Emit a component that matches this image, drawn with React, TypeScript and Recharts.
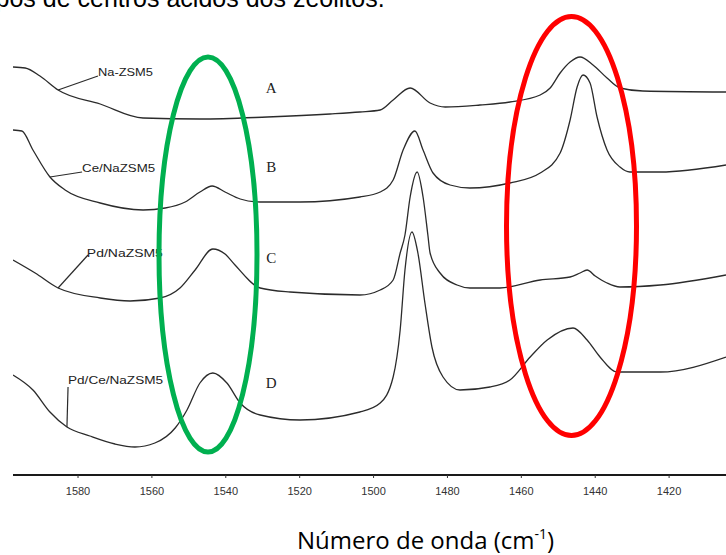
import React from "react";
import { LineChart, Line, XAxis, YAxis, ReferenceLine } from "recharts";

const W = 726;
const H = 555;
const PLOT_LEFT = 13;
const PLOT_TOP = 40;
const PLOT_BOTTOM = 475;
const X_DOMAIN: [number, number] = [1404.6, 1597.6];
const Y_DOMAIN: [number, number] = [0, 4.35];

const xTicks = [1580, 1560, 1540, 1520, 1500, 1480, 1460, 1440, 1420];

// Curve A: Na-ZSM5
const wnA = [1597.6, 1594.3, 1590.3, 1585.4, 1574.0, 1562.4, 1547.0, 1528.8, 1511.8, 1503.7, 1498.2, 1494.7, 1490.1, 1484.7, 1480.6, 1471.2, 1463.1, 1454.9, 1452.2, 1449.5, 1446.8, 1444.1, 1440.6, 1436.8, 1433.3, 1427.1, 1404.6];
const absA = [4.08, 4.07, 3.99, 3.85, 3.71, 3.57, 3.56, 3.58, 3.61, 3.63, 3.65, 3.75, 3.87, 3.72, 3.68, 3.70, 3.73, 3.80, 3.87, 4.02, 4.13, 4.18, 4.10, 3.97, 3.87, 3.84, 3.83];

// Curve B: Ce/NaZSM5
const wnB = [1597.6, 1595.2, 1592.2, 1587.6, 1583.5, 1574.0, 1562.4, 1556.4, 1551.0, 1547.0, 1543.7, 1540.2, 1536.1, 1530.7, 1519.9, 1503.7, 1498.2, 1494.7, 1492.0, 1488.8, 1486.6, 1483.9, 1479.3, 1473.9, 1463.1, 1454.9, 1449.5, 1446.8, 1444.9, 1443.3, 1441.4, 1439.5, 1436.8, 1433.3, 1430.6, 1422.4, 1404.6];
const absB = [3.45, 3.44, 3.25, 2.98, 2.85, 2.72, 2.65, 2.67, 2.73, 2.83, 2.89, 2.83, 2.76, 2.73, 2.73, 2.78, 2.83, 2.95, 3.25, 3.44, 3.25, 3.02, 2.90, 2.87, 2.92, 3.02, 3.22, 3.55, 3.88, 4.00, 3.92, 3.58, 3.25, 3.08, 3.03, 3.03, 3.10];

// Curve C: Pd/NaZSM5
const wnC = [1597.6, 1591.6, 1585.4, 1574.0, 1565.9, 1557.8, 1552.4, 1548.3, 1543.5, 1540.2, 1537.5, 1530.7, 1522.6, 1503.7, 1498.2, 1494.7, 1492.8, 1491.5, 1490.1, 1488.2, 1486.6, 1485.3, 1484.7, 1482.0, 1477.4, 1473.9, 1465.8, 1454.9, 1446.8, 1444.1, 1442.2, 1440.0, 1436.8, 1433.3, 1422.4, 1404.6];
const absC = [2.15, 2.02, 1.87, 1.77, 1.74, 1.77, 1.87, 2.05, 2.26, 2.21, 2.10, 1.87, 1.83, 1.80, 1.85, 1.95, 2.22, 2.40, 2.78, 3.03, 2.78, 2.40, 2.22, 2.02, 1.90, 1.87, 1.87, 1.95, 1.98, 2.02, 2.05, 1.99, 1.92, 1.88, 1.90, 2.00];

// Curve D: Pd/Ce/NaZSM5
const wnD = [1597.6, 1592.2, 1587.6, 1583.0, 1576.8, 1570.0, 1564.6, 1559.2, 1553.7, 1550.5, 1547.0, 1543.5, 1539.7, 1536.1, 1530.7, 1519.9, 1503.7, 1498.2, 1494.7, 1492.8, 1491.5, 1489.6, 1488.0, 1486.1, 1484.2, 1481.2, 1476.6, 1468.5, 1463.1, 1457.6, 1453.0, 1446.0, 1442.2, 1438.7, 1434.1, 1422.4, 1404.6];
const absD = [1.00, 0.85, 0.63, 0.48, 0.39, 0.31, 0.28, 0.32, 0.47, 0.65, 0.92, 1.02, 0.92, 0.72, 0.60, 0.55, 0.63, 0.72, 0.98, 1.45, 2.05, 2.43, 2.22, 1.72, 1.28, 0.98, 0.85, 0.88, 0.95, 1.18, 1.35, 1.47, 1.35, 1.18, 1.03, 1.03, 1.18];

const sampleNames = ["Na-ZSM5", "Ce/NaZSM5", "Pd/NaZSM5", "Pd/Ce/NaZSM5"];
const curveLetters = ["A", "B", "C", "D"];

const toData = (wn: number[], ab: number[]) => wn.map((w, i) => ({ wn: w, abs: ab[i] }));
const dataA = toData(wnA, absA);
const dataB = toData(wnB, absB);
const dataC = toData(wnC, absC);
const dataD = toData(wnD, absD);

// annotation anchors in data units
const leaders = [
  [{ x: 1585.4, y: 3.85 }, { x: 1574.6, y: 3.99 }],
  [{ x: 1587.6, y: 2.98 }, { x: 1578.9, y: 3.03 }],
  [{ x: 1585.4, y: 1.87 }, { x: 1577.3, y: 2.2 }],
  [{ x: 1583.0, y: 0.48 }, { x: 1582.7, y: 0.88 }],
];
const nameAnchors = [
  { x: 1574.6, y: 4.03, len: 55 },
  { x: 1578.9, y: 3.07, len: 73 },
  { x: 1577.6, y: 2.22, len: 76 },
  { x: 1582.7, y: 0.95, len: 95 },
];
const letterX = 1527.7;
const letterY = [3.87, 3.08, 2.17, 0.92];

const px = (v: number) =>
  PLOT_LEFT + ((X_DOMAIN[1] - v) / (X_DOMAIN[1] - X_DOMAIN[0])) * (W - PLOT_LEFT);
const py = (v: number) =>
  PLOT_BOTTOM - ((v - Y_DOMAIN[0]) / (Y_DOMAIN[1] - Y_DOMAIN[0])) * (PLOT_BOTTOM - PLOT_TOP);

const lineColor = "#2b2b2b";

export default function App() {
  const series = [dataA, dataB, dataC, dataD];
  return (
    <div style={{ position: "absolute", left: 0, top: 0, width: W, height: H, background: "#fff", overflow: "hidden" }}>
      <div style={{ position: "absolute", left: 0, top: 0 }}>
        <LineChart width={W} height={H} margin={{ top: PLOT_TOP, right: 0, bottom: H - PLOT_BOTTOM - 30, left: PLOT_LEFT }}>
          <XAxis
            dataKey="wn"
            type="number"
            domain={X_DOMAIN}
            reversed
            allowDataOverflow
            ticks={xTicks}
            height={30}
            tickSize={3}
            tickMargin={9}
            axisLine={{ stroke: "#1a1a1a", strokeWidth: 2.2 }}
            tickLine={{ stroke: "#333", strokeWidth: 1 }}
            tick={{ fontSize: 11, fill: "#333", fontFamily: "Liberation Sans, Arial, sans-serif" }}
          />
          <YAxis type="number" domain={Y_DOMAIN} hide width={0} allowDataOverflow />
          {series.map((d, i) => (
            <Line
              key={i}
              data={d}
              dataKey="abs"
              type="monotone"
              stroke={lineColor}
              strokeWidth={1.3}
              dot={false}
              activeDot={false}
              isAnimationActive={false}
            />
          ))}
          {leaders.map((seg, i) => (
            <ReferenceLine key={"l" + i} segment={seg} stroke={lineColor} strokeWidth={1.2} ifOverflow="visible" />
          ))}
        </LineChart>
      </div>
      <svg width={W} height={H} style={{ position: "absolute", left: 0, top: 0, pointerEvents: "none" }}>
        <text x={-17} y={7} fontSize={25} fill="#000" fontFamily="Liberation Sans, Arial, sans-serif">
          tipos de centros ácidos dos zeólitos.
        </text>
        {nameAnchors.map((a, i) => (
          <text
            key={"n" + i}
            x={px(a.x)}
            y={py(a.y)}
            dominantBaseline="central"
            fontSize={11}
            fill="#222"
            fontFamily="Liberation Sans, Arial, sans-serif"
            textLength={a.len}
            lengthAdjust="spacingAndGlyphs"
          >
            {sampleNames[i]}
          </text>
        ))}
        {curveLetters.map((l, i) => (
          <text
            key={"c" + i}
            x={px(letterX)}
            y={py(letterY[i])}
            dominantBaseline="central"
            textAnchor="middle"
            fontSize={15}
            fill="#222"
            fontFamily="Liberation Serif, Times New Roman, serif"
          >
            {l}
          </text>
        ))}
        <ellipse cx={208} cy={254.5} rx={49} ry={197.5} fill="none" stroke="#00B050" strokeWidth={5} />
        <ellipse cx={571.5} cy={226} rx={65} ry={209.5} fill="none" stroke="#FF0000" strokeWidth={5} />
        <text x={297} y={549} fontSize={24} fill="#000" fontFamily="Open Sans, sans-serif">
          Número de onda (cm
          <tspan fontSize={14} dy={-10}>-1</tspan>
          <tspan dy={10}>)</tspan>
        </text>
      </svg>
    </div>
  );
}
